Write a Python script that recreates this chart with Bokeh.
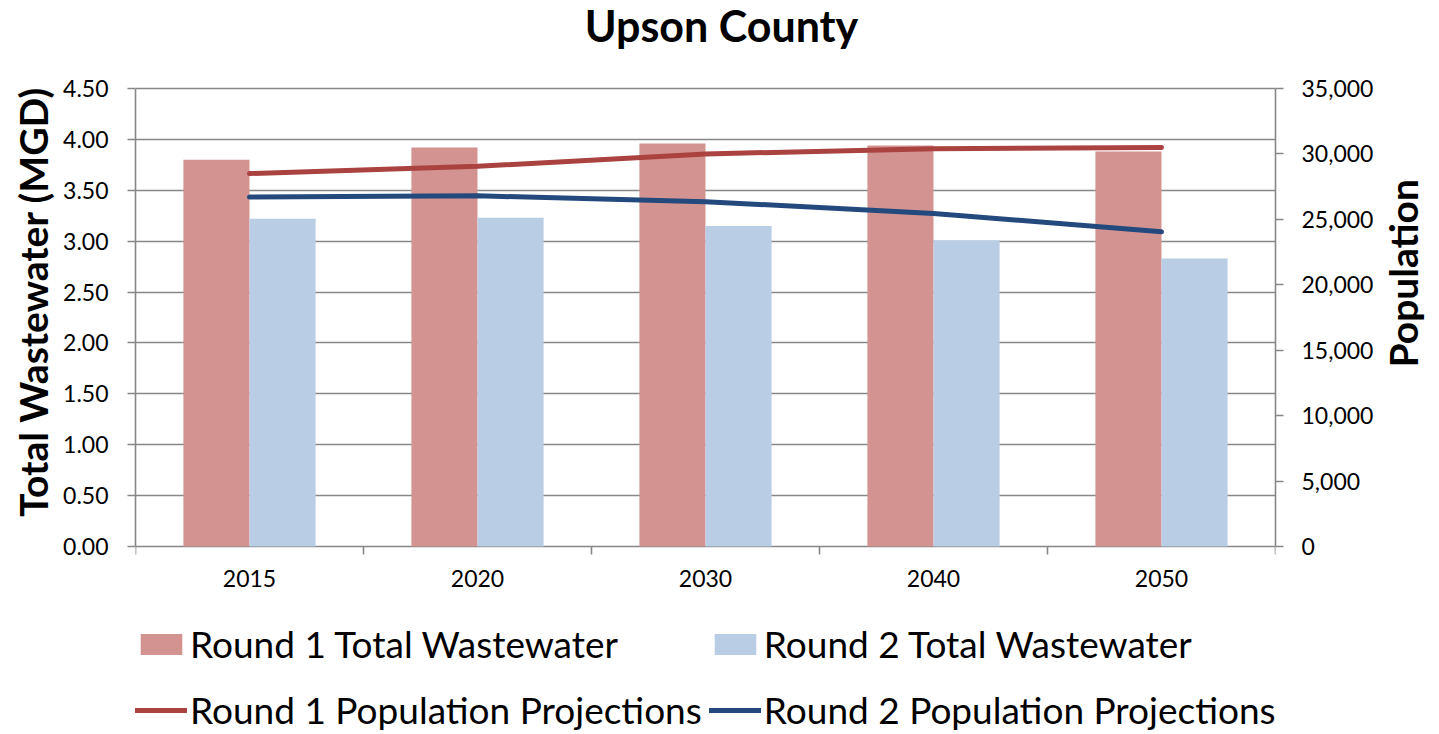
import math
from bokeh.plotting import figure
from bokeh.models import (Range1d, LinearAxis, FixedTicker, NumeralTickFormatter, Legend,
                          LegendItem, Label, ColumnDataSource)
from bokeh.core.properties import value
from bokeh.transform import dodge
from bokeh.embed import file_html
from bokeh.resources import INLINE

years = ["2015", "2020", "2030", "2040", "2050"]
r1_wastewater = [3.80, 3.92, 3.96, 3.94, 3.88]
r2_wastewater = [3.22, 3.23, 3.15, 3.01, 2.83]
r1_population = [28500, 29050, 30000, 30400, 30500]
r2_population = [26700, 26800, 26350, 25450, 24050]
ww_ticks = [0.0, 0.5, 1.0, 1.5, 2.0, 2.5, 3.0, 3.5, 4.0, 4.5]
pop_ticks = [0, 5000, 10000, 15000, 20000, 25000, 30000, 35000]

FONT = "Lato"
GREY = "#878787"
BAR_RED = "#D39391"
BAR_BLUE = "#B9CDE5"
LINE_RED = "#AA4240"
LINE_BLUE = "#24497D"
NBSP = "\u00a0"

# geometry (pixels): plot area spans y 88..546 for 0..4.5; the frame is extended
# above and below so that title, year labels and legend can live inside it.
WW_MAX, POP_MAX = 4.5, 35000
TOP_PX, PLOT_PX, BOTTOM_PX = 88, 458, 188
ww_per_px = WW_MAX / PLOT_PX
pop_per_px = POP_MAX / PLOT_PX

n = len(years)
centers = [i + 0.5 for i in range(n)]
edges = list(range(n + 1))

src = ColumnDataSource(dict(x=centers, r1w=r1_wastewater, r2w=r2_wastewater,
                            r1p=r1_population, r2p=r2_population))

p = figure(x_range=Range1d(0, n),
           y_range=Range1d(-BOTTOM_PX * ww_per_px, WW_MAX + TOP_PX * ww_per_px),
           frame_width=1140, frame_height=TOP_PX + PLOT_PX + BOTTOM_PX,
           min_border_left=135, min_border_right=163, min_border_top=0, min_border_bottom=0,
           output_backend="svg", toolbar_location=None, x_axis_location=None)
p.outline_line_color = None
p.background_fill_color = "white"

p.extra_y_ranges = {"pop": Range1d(-BOTTOM_PX * pop_per_px, POP_MAX + TOP_PX * pop_per_px)}

p.xgrid.grid_line_color = None
p.ygrid.ticker = FixedTicker(ticks=ww_ticks)
p.ygrid.grid_line_color = GREY
p.ygrid.grid_line_width = 1.6

b1 = p.vbar(x=dodge("x", -0.145), top="r1w", width=0.29, source=src,
            fill_color=BAR_RED, line_color=None)
b2 = p.vbar(x=dodge("x", 0.145), top="r2w", width=0.29, source=src,
            fill_color=BAR_BLUE, line_color=None)
l1 = p.line(x="x", y="r1p", source=src, y_range_name="pop", line_color=LINE_RED,
            line_width=5, line_cap="round", line_join="round")
l2 = p.line(x="x", y="r2p", source=src, y_range_name="pop", line_color=LINE_BLUE,
            line_width=5, line_cap="round", line_join="round")

# category axis: tick marks at category edges, year labels at centres
p.ray(x=edges, y=[0] * len(edges), length=8, length_units="screen", angle=-math.pi / 2,
      line_color=GREY, line_width=1.6)
p.text(x=centers, y=[-23 * ww_per_px] * n, text=years, text_align="center",
       text_baseline="top", text_font=value(FONT), text_font_size="23px",
       text_color="black")

# left axis (label padded so that it sits centred on the 0..4.5 scale)
ya = p.yaxis[0]
ya.bounds = (0, WW_MAX)
ya.ticker = FixedTicker(ticks=ww_ticks)
ya.formatter = NumeralTickFormatter(format="0.00")
ya.axis_label = NBSP * 14 + "Total Wastewater (MGD)"
ya.axis_label_text_font = FONT
ya.axis_label_text_font_style = "bold"
ya.axis_label_text_font_size = "39px"
ya.axis_label_text_color = "black"
ya.axis_label_standoff = 4
ya.major_label_text_font = FONT
ya.major_label_text_font_size = "23px"
ya.major_label_text_color = "black"
ya.major_label_standoff = 19
ya.major_tick_out = 8
ya.major_tick_in = 0
ya.minor_tick_line_color = None
ya.axis_line_color = GREY
ya.axis_line_width = 1.6
ya.major_tick_line_color = GREY
ya.major_tick_line_width = 1.6

# right axis
ra = LinearAxis(y_range_name="pop", bounds=(0, POP_MAX), ticker=FixedTicker(ticks=pop_ticks),
                formatter=NumeralTickFormatter(format="0,0"),
                major_label_text_font=FONT, major_label_text_font_size="23px",
                major_label_text_color="black", major_label_standoff=18,
                major_tick_out=8, major_tick_in=0, minor_tick_line_color=None,
                axis_line_color=GREY, axis_line_width=1.6,
                major_tick_line_color=GREY, major_tick_line_width=1.6)
p.add_layout(ra, "right")
# right axis title (reads bottom-to-top), carried by a tick-less axis
rl = LinearAxis(y_range_name="pop", bounds=(0, 21245), ticker=FixedTicker(ticks=[]),
                axis_label="Population", axis_label_text_font=FONT,
                axis_label_text_font_style="bold", axis_label_text_font_size="39px",
                axis_label_text_color="black", axis_label_standoff=26,
                axis_label_orientation=math.pi / 2,
                major_tick_out=0, major_tick_in=0, major_label_standoff=0,
                axis_line_color=None, major_tick_line_color=None, minor_tick_line_color=None,
                minor_tick_out=0, minor_tick_in=0)
p.add_layout(rl, "right")

# title
p.add_layout(Label(x=n / 2, y=WW_MAX + (TOP_PX - 25) * ww_per_px, x_offset=16,
                   text="Upson County", text_align="center", text_baseline="alphabetic",
                   text_font=FONT, text_font_size="43px", text_font_style="bold",
                   text_color="black"))

# legend (two rows, two columns) below the plot area
legend = Legend(items=[LegendItem(label="Round 1 Total Wastewater", renderers=[b1]),
                       LegendItem(label="Round 2 Total Wastewater", renderers=[b2]),
                       LegendItem(label="Round 1 Population Projections", renderers=[l1]),
                       LegendItem(label="Round 2 Population Projections", renderers=[l2])],
                orientation="horizontal", ncols=2,
                location=(0, -5), margin=0, padding=0,
                label_text_font=FONT, label_text_font_size="37px", label_text_color="black",
                glyph_width=52, glyph_height=26, label_width=0, label_height=59,
                label_standoff=3, spacing=7, border_line_color=None,
                background_fill_alpha=0)
p.add_layout(legend, "center")

open("out.html", "w").write(file_html(p, INLINE))
